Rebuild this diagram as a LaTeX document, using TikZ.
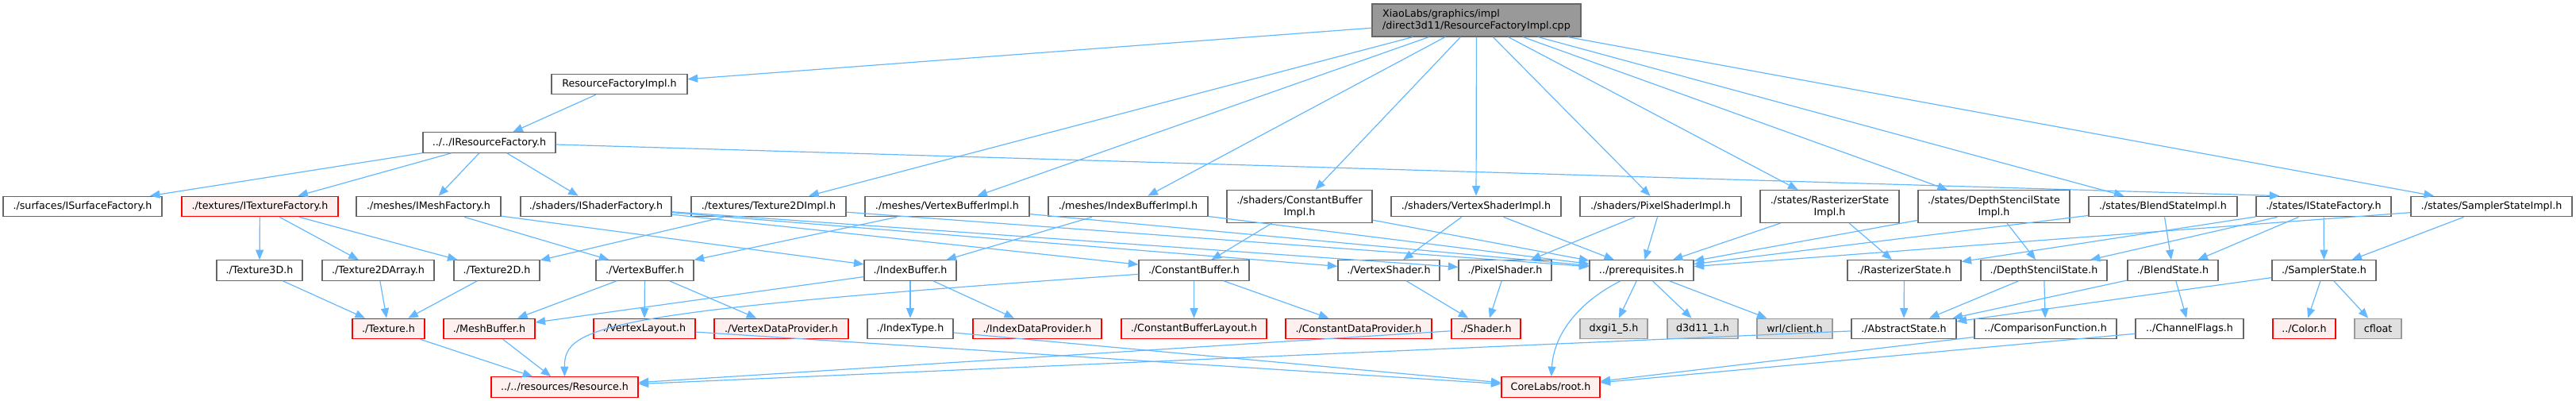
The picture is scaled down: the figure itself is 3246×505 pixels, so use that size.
\documentclass[tikz,border=0pt]{standalone}
\usepackage{fontspec}
\setmainfont{DejaVu Sans}
\usetikzlibrary{arrows.meta}
\definecolor{grey40}{HTML}{666666}
\definecolor{grey60}{HTML}{999999}
\definecolor{truncpink}{HTML}{FFF0F0}
\definecolor{sysgray}{HTML}{E0E0E0}
\definecolor{edgeblue}{HTML}{63B8FF}
\begin{document}
\begin{tikzpicture}[x=1pt, y=-1pt,
    file/.style={draw=grey40, fill=white, line width=1.2pt, minimum height=25.5pt,
      inner xsep=4pt, inner ysep=1pt, font=\fontsize{12.7}{15}\selectfont},
    trunc/.style={file, draw=red, fill=truncpink},
    sys/.style={file, draw=grey60, fill=sysgray},
    twoline/.style={align=center, minimum height=41pt},
    dep/.style={draw=edgeblue, line width=1.2pt, -{Triangle[length=12.5pt, width=10pt]}}]
      \useasboundingbox (0,0) rectangle (3246,505);
      \node[file, fill=grey60, align=left, minimum width=263pt, minimum height=41pt] (root) at (1860.5,25.5)
        {XiaoLabs/graphics/impl\\/direct3d11/ResourceFactoryImpl.cpp};
      \node[file, minimum width=171pt] (rfimpl) at (780.5,106) {ResourceFactoryImpl.h};
      \node[file, minimum width=167pt] (irf) at (616.5,179.5) {../../IResourceFactory.h};

      \node[file, minimum width=200pt] (isurf) at (104,260) {./surfaces/ISurfaceFactory.h};
      \node[trunc, minimum width=197pt] (itex) at (327.5,260) {./textures/ITextureFactory.h};
      \node[file, minimum width=182pt] (imesh) at (540,260) {./meshes/IMeshFactory.h};
      \node[file, minimum width=190pt] (ishader) at (751,260) {./shaders/IShaderFactory.h};
      \node[file, minimum width=195pt] (t2dimpl) at (968.5,260) {./textures/Texture2DImpl.h};
      \node[file, minimum width=207pt] (vbimpl) at (1193.5,260) {./meshes/VertexBufferImpl.h};
      \node[file, minimum width=201pt] (ibimpl) at (1421.5,260) {./meshes/IndexBufferImpl.h};
      \node[file, twoline, minimum width=183pt] (cbimpl) at (1637.5,260) {./shaders/ConstantBuffer\\Impl.h};
      \node[file, minimum width=214pt] (vsimpl) at (1860,260) {./shaders/VertexShaderImpl.h};
      \node[file, minimum width=203pt] (psimpl) at (2092.5,260) {./shaders/PixelShaderImpl.h};
      \node[file, twoline, minimum width=175pt] (rsimpl) at (2305.5,260) {./states/RasterizerState\\Impl.h};
      \node[file, twoline, minimum width=191pt] (dsimpl) at (2512.5,260) {./states/DepthStencilState\\Impl.h};
      \node[file, minimum width=187pt] (bsimpl) at (2725.5,260) {./states/BlendStateImpl.h};
      \node[file, minimum width=170pt] (istate) at (2928,260) {./states/IStateFactory.h};
      \node[file, minimum width=203pt] (ssimpl) at (3139.5,260) {./states/SamplerStateImpl.h};

      \node[file, minimum width=108pt] (tex3d) at (327,340.5) {./Texture3D.h};
      \node[file, minimum width=141pt] (tex2darr) at (476.5,340.5) {./Texture2DArray.h};
      \node[file, minimum width=108pt] (tex2d) at (626,340.5) {./Texture2D.h};
      \node[file, minimum width=123pt] (vbuf) at (812.5,340.5) {./VertexBuffer.h};
      \node[file, minimum width=116pt] (ibuf) at (1147,340.5) {./IndexBuffer.h};
      \node[file, minimum width=139pt] (cbuf) at (1504.5,340.5) {./ConstantBuffer.h};
      \node[file, minimum width=128pt] (vshader) at (1750,340.5) {./VertexShader.h};
      \node[file, minimum width=117pt] (pshader) at (1896.5,340.5) {./PixelShader.h};
      \node[file, minimum width=131pt] (prereq) at (2068.5,340.5) {../prerequisites.h};
      \node[file, minimum width=143pt] (rstate) at (2399.5,340.5) {./RasterizerState.h};
      \node[file, minimum width=159pt] (dsstate) at (2575.5,340.5) {./DepthStencilState.h};
      \node[file, minimum width=114pt] (bstate) at (2738,340.5) {./BlendState.h};
      \node[file, minimum width=131pt] (sstate) at (2928.5,340.5) {./SamplerState.h};

      \node[trunc, minimum width=91pt] (tex) at (489.5,414) {./Texture.h};
      \node[trunc, minimum width=115pt] (meshbuf) at (616.5,414) {./MeshBuffer.h};
      \node[trunc, minimum width=128pt] (vlayout) at (812,414) {./VertexLayout.h};
      \node[trunc, minimum width=169pt] (vdata) at (984.5,414) {./VertexDataProvider.h};
      \node[file, minimum width=108pt] (itype) at (1147,414) {./IndexType.h};
      \node[trunc, minimum width=162pt] (idata) at (1307,414) {./IndexDataProvider.h};
      \node[trunc, minimum width=183pt] (cblayout) at (1504.5,414) {./ConstantBufferLayout.h};
      \node[trunc, minimum width=184pt] (cdata) at (1712,414) {./ConstantDataProvider.h};
      \node[trunc, minimum width=87pt] (shader) at (1872.5,414) {./Shader.h};
      \node[sys, minimum width=85pt] (dxgi) at (2033.5,414) {dxgi1\_5.h};
      \node[sys, minimum width=89pt] (d3d) at (2145.5,414) {d3d11\_1.h};
      \node[sys, minimum width=95pt] (wrl) at (2261.5,414) {wrl/client.h};
      \node[file, minimum width=132pt] (astate) at (2399,414) {./AbstractState.h};
      \node[file, minimum width=179pt] (cmpfn) at (2577.5,414) {../ComparisonFunction.h};
      \node[file, minimum width=136pt] (chflags) at (2759,414) {../ChannelFlags.h};
      \node[trunc, minimum width=79pt] (color) at (2903.5,414) {../Color.h};
      \node[sys, minimum width=59pt] (cfloat) at (2996.5,414) {cfloat};

      \node[trunc, minimum width=185pt] (resource) at (711.5,487.5) {../../resources/Resource.h};
      \node[trunc, minimum width=124pt] (coreroot) at (1954,487.5) {CoreLabs/root.h};

      \foreach \dst in {rfimpl, t2dimpl, vbimpl, ibimpl, cbimpl, vsimpl, psimpl, rsimpl, dsimpl, bsimpl, ssimpl}
        \draw[dep] (root) -- (\dst);
      \draw[dep] (rfimpl) -- (irf);
      \foreach \dst in {isurf, itex, imesh, ishader}
        \draw[dep] (irf) -- (\dst);
      \draw[dep] (irf) -- ([xshift=30pt]istate.north west);
      \foreach \dst in {tex3d, tex2darr, tex2d}
        \draw[dep] (itex) -- (\dst);
      \draw[dep] (imesh) -- (vbuf);
      \draw[dep] (imesh) -- (ibuf);
      \foreach \dst in {cbuf, vshader, pshader}
        \draw[dep] (ishader) -- (\dst);
      \draw[dep] (t2dimpl) -- (tex2d);
      \draw[dep] (vbimpl) -- (vbuf);
      \draw[dep] (ibimpl) -- (ibuf);
      \draw[dep] (cbimpl) -- (cbuf);
      \draw[dep] (vsimpl) -- (vshader);
      \draw[dep] (psimpl) -- (pshader);
      \draw[dep] (rsimpl) -- (rstate);
      \draw[dep] (dsimpl) -- (dsstate);
      \draw[dep] (bsimpl) -- (bstate);
      \draw[dep] (ssimpl) -- (sstate);
      \foreach \src in {t2dimpl, vbimpl, ibimpl, cbimpl, vsimpl, psimpl, rsimpl, dsimpl, bsimpl, ssimpl}
        \draw[dep] (\src) -- (prereq);
      \foreach \dst in {rstate, dsstate, bstate, sstate}
        \draw[dep] (istate) -- (\dst);

      \foreach \src in {tex3d, tex2darr, tex2d}
        \draw[dep] (\src) -- (tex);
      \foreach \dst in {meshbuf, vlayout, vdata}
        \draw[dep] (vbuf) -- (\dst);
      \foreach \dst in {itype, idata, meshbuf}
        \draw[dep] (ibuf) -- (\dst);
      \draw[dep] (cbuf) -- (cblayout);
      \draw[dep] (cbuf) -- (cdata);
      \draw[dep] (cbuf) .. controls (760,392) and (711,410) .. (resource);
      \draw[dep] (vshader) -- (shader);
      \draw[dep] (pshader) -- (shader);
      \foreach \dst in {dxgi, d3d, wrl}
        \draw[dep] (prereq) -- (\dst);
      \draw[dep] (prereq) .. controls (1990,380) and (1958,420) .. (coreroot);
      \draw[dep] (rstate) -- (astate);
      \draw[dep] (dsstate) -- (astate);
      \draw[dep] (dsstate) -- (cmpfn);
      \draw[dep] (bstate) -- (astate);
      \draw[dep] (bstate) -- (chflags);
      \foreach \dst in {astate, color, cfloat}
        \draw[dep] (sstate) -- (\dst);

      \foreach \src in {tex, meshbuf, shader, astate}
        \draw[dep] (\src) -- (resource);
      \foreach \src in {vlayout, itype, cmpfn, chflags}
        \draw[dep] (\src) -- (coreroot);
    \end{tikzpicture}
\end{document}
